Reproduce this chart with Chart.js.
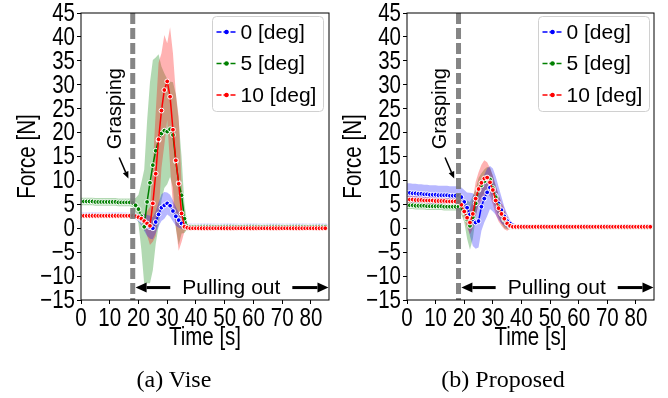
<!DOCTYPE html>
<html>
<head>
<meta charset="utf-8">
<script src="https://cdn.jsdelivr.net/npm/chart.js@4.4.1/dist/chart.umd.min.js"></script>
<style>
  html, body { margin: 0; padding: 0; background: #fff; }
  #wrap { position: relative; width: 668px; height: 398px; overflow: hidden; }
  canvas { position: absolute; top: 0; }
  .cap {
    position: absolute; top: 365px; width: 200px; text-align: center;
    font-family: "Liberation Serif", "Times New Roman", serif; font-size: 24px; line-height: 28px;
  }
</style>
</head>
<body>
<div id="wrap">
  <canvas id="vise" width="334" height="398" style="left:0;width:334px;height:398px"></canvas>
  <canvas id="prop" width="334" height="398" style="left:334px;width:334px;height:398px"></canvas>
  <div class="cap" style="left:74px">(a) Vise</div>
  <div class="cap" style="left:403px">(b) Proposed</div>
</div>
<script>
// Sample times [s], one reading per second.
const TIME = [
  0, 1, 2, 3, 4, 5, 6, 7, 8, 9,
  10, 11, 12, 13, 14, 15, 16, 17, 18, 19,
  20, 21, 22, 23, 24, 25, 26, 27, 28, 29,
  30, 31, 32, 33, 34, 35, 36, 37, 38, 39,
  40, 41, 42, 43, 44, 45, 46, 47, 48, 49,
  50, 51, 52, 53, 54, 55, 56, 57, 58, 59,
  60, 61, 62, 63, 64, 65, 66, 67, 68, 69,
  70, 71, 72, 73, 74, 75, 76, 77, 78, 79,
  80, 81, 82, 83, 84, 85,
];

// (a) Vise: mean force [N] and its standard deviation, per angle.
const VISE_DEG0 = [
  2.8, 2.8, 2.8, 2.8, 2.8, 2.8, 2.8, 2.8, 2.8, 2.8,
  2.8, 2.8, 2.8, 2.8, 2.8, 2.8, 2.8, 2.7, 2.7, 2.5,
  2.2, 1.8, 1.2, 0.6, 0.2, 0.0, 1.3, 2.9, 4.3, 4.8,
  5.2, 4.7, 3.6, 2.5, 1.7, 1.0, 0.6, 0.5, 0.5, 0.5,
  0.5, 0.5, 0.5, 0.5, 0.5, 0.5, 0.5, 0.5, 0.5, 0.5,
  0.5, 0.5, 0.5, 0.5, 0.5, 0.5, 0.5, 0.5, 0.5, 0.5,
  0.5, 0.5, 0.5, 0.5, 0.5, 0.5, 0.5, 0.5, 0.5, 0.5,
  0.5, 0.5, 0.5, 0.5, 0.5, 0.5, 0.5, 0.5, 0.5, 0.5,
  0.5, 0.5, 0.5, 0.5, 0.5, 0.5,
];
const VISE_DEG0_SD = [
  0.5, 0.5, 0.5, 0.5, 0.5, 0.5, 0.5, 0.5, 0.5, 0.5,
  0.5, 0.5, 0.5, 0.5, 0.5, 0.5, 0.5, 0.5, 0.5, 0.6,
  0.8, 1.2, 1.8, 2.2, 2.4, 2.3, 2.3, 2.5, 2.8, 2.8,
  2.3, 2.3, 2.2, 2.0, 1.6, 1.1, 0.5, 0.2, 0.2, 0.2,
  0.2, 0.2, 0.2, 0.2, 0.2, 0.2, 0.2, 0.2, 0.2, 0.2,
  0.2, 0.2, 0.2, 0.2, 0.2, 0.2, 0.2, 0.2, 0.2, 0.2,
  0.2, 0.2, 0.2, 0.2, 0.2, 0.2, 0.2, 0.2, 0.2, 0.2,
  0.2, 0.2, 0.2, 0.2, 0.2, 0.2, 0.2, 0.2, 0.2, 0.2,
  0.2, 0.2, 0.2, 0.2, 0.2, 0.2,
];
const VISE_DEG5 = [
  5.6, 5.6, 5.6, 5.6, 5.6, 5.5, 5.5, 5.5, 5.5, 5.5,
  5.5, 5.5, 5.5, 5.4, 5.4, 5.4, 5.4, 5.4, 5.3, 4.8,
  4.0, 2.5, 0.3, 5.5, 9.5, 13.2, 16.2, 18.4, 19.8, 20.4,
  20.2, 20.7, 19.5, 14.0, 9.5, 6.9, 2.0, 0.4, 0.3, 0.3,
  0.3, 0.3, 0.3, 0.3, 0.3, 0.3, 0.3, 0.3, 0.3, 0.3,
  0.3, 0.3, 0.3, 0.3, 0.3, 0.3, 0.3, 0.3, 0.3, 0.3,
  0.3, 0.3, 0.3, 0.3, 0.3, 0.3, 0.3, 0.3, 0.3, 0.3,
  0.3, 0.3, 0.3, 0.3, 0.3, 0.3, 0.3, 0.3, 0.3, 0.3,
  0.3, 0.3, 0.3, 0.3, 0.3, 0.3,
];
const VISE_DEG5_SD = [
  0.8, 0.8, 0.8, 0.8, 0.8, 0.8, 0.8, 0.8, 0.8, 0.8,
  0.8, 0.8, 0.8, 0.8, 0.8, 0.8, 0.8, 0.8, 0.9, 1.5,
  3.0, 7.0, 12.0, 17.0, 21.0, 22.0, 19.5, 18.0, 14.0, 12.0,
  11.0, 10.0, 11.0, 14.0, 13.0, 8.0, 3.0, 0.6, 0.3, 0.3,
  0.3, 0.3, 0.3, 0.3, 0.3, 0.3, 0.3, 0.3, 0.3, 0.3,
  0.3, 0.3, 0.3, 0.3, 0.3, 0.3, 0.3, 0.3, 0.3, 0.3,
  0.3, 0.3, 0.3, 0.3, 0.3, 0.3, 0.3, 0.3, 0.3, 0.3,
  0.3, 0.3, 0.3, 0.3, 0.3, 0.3, 0.3, 0.3, 0.3, 0.3,
  0.3, 0.3, 0.3, 0.3, 0.3, 0.3,
];
const VISE_DEG10 = [
  2.6, 2.6, 2.6, 2.6, 2.6, 2.6, 2.6, 2.6, 2.6, 2.6,
  2.6, 2.6, 2.6, 2.6, 2.6, 2.6, 2.6, 2.6, 2.6, 2.5,
  2.3, 2.0, 1.5, 1.0, 0.5, 5.2, 11.4, 18.6, 24.6, 28.9,
  30.7, 27.5, 20.6, 14.2, 9.3, 3.1, 0.3, 0.1, 0.0, 0.0,
  0.0, 0.0, 0.0, 0.0, 0.0, 0.0, 0.0, 0.0, 0.0, 0.0,
  0.0, 0.0, 0.0, 0.0, 0.0, 0.0, 0.0, 0.0, 0.0, 0.0,
  0.0, 0.0, 0.0, 0.0, 0.0, 0.0, 0.0, 0.0, 0.0, 0.0,
  0.0, 0.0, 0.0, 0.0, 0.0, 0.0, 0.0, 0.0, 0.0, 0.0,
  0.0, 0.0, 0.0, 0.0, 0.0, 0.0,
];
const VISE_DEG10_SD = [
  0.3, 0.3, 0.3, 0.3, 0.3, 0.3, 0.3, 0.3, 0.3, 0.3,
  0.3, 0.3, 0.3, 0.3, 0.3, 0.3, 0.3, 0.3, 0.3, 0.3,
  0.5, 0.8, 1.5, 2.5, 4.0, 8.0, 13.0, 16.0, 12.0, 11.5,
  8.0, 14.5, 16.0, 14.0, 14.0, 6.0, 1.0, 0.3, 0.2, 0.2,
  0.2, 0.2, 0.2, 0.2, 0.2, 0.2, 0.2, 0.2, 0.2, 0.2,
  0.2, 0.2, 0.2, 0.2, 0.2, 0.2, 0.2, 0.2, 0.2, 0.2,
  0.2, 0.2, 0.2, 0.2, 0.2, 0.2, 0.2, 0.2, 0.2, 0.2,
  0.2, 0.2, 0.2, 0.2, 0.2, 0.2, 0.2, 0.2, 0.2, 0.2,
  0.2, 0.2, 0.2, 0.2, 0.2, 0.2,
];

// (b) Proposed
const PROP_DEG0 = [
  7.4, 7.4, 7.3, 7.3, 7.2, 7.2, 7.1, 7.1, 7.0, 7.0,
  7.0, 6.9, 6.9, 6.9, 6.9, 6.8, 6.8, 6.8, 6.8, 6.5,
  5.5, 4.3, 2.9, 1.8, 1.2, 1.5, 4.5, 6.2, 7.5, 8.5,
  8.0, 6.8, 5.2, 3.8, 2.5, 1.5, 1.0, 0.6, 0.4, 0.4,
  0.4, 0.4, 0.4, 0.4, 0.4, 0.4, 0.4, 0.4, 0.4, 0.4,
  0.4, 0.4, 0.4, 0.4, 0.4, 0.4, 0.4, 0.4, 0.4, 0.4,
  0.4, 0.4, 0.4, 0.4, 0.4, 0.4, 0.4, 0.4, 0.4, 0.4,
  0.4, 0.4, 0.4, 0.4, 0.4, 0.4, 0.4, 0.4, 0.4, 0.4,
  0.4, 0.4, 0.4, 0.4, 0.4, 0.4,
];
const PROP_DEG0_SD = [
  2.0, 2.0, 2.0, 2.0, 2.0, 2.0, 2.0, 2.0, 2.0, 2.0,
  2.0, 2.0, 2.0, 2.0, 2.0, 2.0, 2.0, 2.0, 2.0, 2.0,
  2.5, 3.2, 4.5, 5.5, 5.5, 5.5, 5.0, 5.0, 5.0, 4.5,
  4.5, 4.0, 3.5, 2.8, 2.0, 1.5, 0.7, 0.3, 0.2, 0.2,
  0.2, 0.2, 0.2, 0.2, 0.2, 0.2, 0.2, 0.2, 0.2, 0.2,
  0.2, 0.2, 0.2, 0.2, 0.2, 0.2, 0.2, 0.2, 0.2, 0.2,
  0.2, 0.2, 0.2, 0.2, 0.2, 0.2, 0.2, 0.2, 0.2, 0.2,
  0.2, 0.2, 0.2, 0.2, 0.2, 0.2, 0.2, 0.2, 0.2, 0.2,
  0.2, 0.2, 0.2, 0.2, 0.2, 0.2,
];
const PROP_DEG5 = [
  4.8, 4.8, 4.8, 4.7, 4.7, 4.7, 4.7, 4.6, 4.6, 4.6,
  4.6, 4.6, 4.6, 4.5, 4.5, 4.5, 4.5, 4.5, 4.5, 4.1,
  3.3, 1.8, 0.5, 2.3, 5.2, 8.0, 9.0, 9.8, 10.5, 10.2,
  8.4, 6.5, 4.6, 3.0, 1.8, 1.0, 0.4, 0.2, 0.2, 0.2,
  0.2, 0.2, 0.2, 0.2, 0.2, 0.2, 0.2, 0.2, 0.2, 0.2,
  0.2, 0.2, 0.2, 0.2, 0.2, 0.2, 0.2, 0.2, 0.2, 0.2,
  0.2, 0.2, 0.2, 0.2, 0.2, 0.2, 0.2, 0.2, 0.2, 0.2,
  0.2, 0.2, 0.2, 0.2, 0.2, 0.2, 0.2, 0.2, 0.2, 0.2,
  0.2, 0.2, 0.2, 0.2, 0.2, 0.2,
];
const PROP_DEG5_SD = [
  0.8, 0.8, 0.8, 0.8, 0.8, 0.8, 0.8, 0.8, 0.8, 0.8,
  0.8, 0.8, 0.8, 0.8, 0.8, 0.8, 0.8, 0.8, 0.8, 1.2,
  2.0, 4.0, 5.0, 4.5, 3.0, 2.5, 2.5, 2.5, 2.3, 2.5,
  2.5, 2.5, 2.3, 2.0, 1.8, 1.2, 0.6, 0.3, 0.2, 0.2,
  0.2, 0.2, 0.2, 0.2, 0.2, 0.2, 0.2, 0.2, 0.2, 0.2,
  0.2, 0.2, 0.2, 0.2, 0.2, 0.2, 0.2, 0.2, 0.2, 0.2,
  0.2, 0.2, 0.2, 0.2, 0.2, 0.2, 0.2, 0.2, 0.2, 0.2,
  0.2, 0.2, 0.2, 0.2, 0.2, 0.2, 0.2, 0.2, 0.2, 0.2,
  0.2, 0.2, 0.2, 0.2, 0.2, 0.2,
];
const PROP_DEG10 = [
  6.0, 6.0, 6.0, 5.9, 5.9, 5.9, 5.8, 5.8, 5.8, 5.8,
  5.7, 5.7, 5.7, 5.7, 5.6, 5.6, 5.6, 5.6, 5.5, 4.9,
  3.5, 2.2, 1.2, 3.0, 6.2, 8.2, 9.5, 10.4, 10.6, 9.6,
  8.0, 5.8, 4.2, 3.0, 2.0, 1.0, 0.5, 0.3, 0.3, 0.3,
  0.3, 0.3, 0.3, 0.3, 0.3, 0.3, 0.3, 0.3, 0.3, 0.3,
  0.3, 0.3, 0.3, 0.3, 0.3, 0.3, 0.3, 0.3, 0.3, 0.3,
  0.3, 0.3, 0.3, 0.3, 0.3, 0.3, 0.3, 0.3, 0.3, 0.3,
  0.3, 0.3, 0.3, 0.3, 0.3, 0.3, 0.3, 0.3, 0.3, 0.3,
  0.3, 0.3, 0.3, 0.3, 0.3, 0.3,
];
const PROP_DEG10_SD = [
  0.8, 0.8, 0.8, 0.8, 0.8, 0.8, 0.8, 0.8, 0.8, 0.8,
  0.8, 0.8, 0.8, 0.8, 0.8, 0.8, 0.8, 0.8, 0.8, 1.0,
  1.5, 2.0, 2.5, 3.0, 3.5, 3.5, 3.8, 3.8, 3.2, 3.0,
  3.0, 3.0, 2.8, 2.5, 2.2, 1.5, 0.6, 0.2, 0.1, 0.1,
  0.1, 0.1, 0.1, 0.1, 0.1, 0.1, 0.1, 0.1, 0.1, 0.1,
  0.1, 0.1, 0.1, 0.1, 0.1, 0.1, 0.1, 0.1, 0.1, 0.1,
  0.1, 0.1, 0.1, 0.1, 0.1, 0.1, 0.1, 0.1, 0.1, 0.1,
  0.1, 0.1, 0.1, 0.1, 0.1, 0.1, 0.1, 0.1, 0.1, 0.1,
  0.1, 0.1, 0.1, 0.1, 0.1, 0.1,
];

const SERIES_LABELS = ["0 [deg]", "5 [deg]", "10 [deg]"];
const COLORS = ["#0000ff", "#008000", "#ff0000"];
const BAND_COLORS = ["rgba(0,0,255,0.28)", "rgba(0,128,0,0.3)", "rgba(255,0,0,0.3)"];
const X_MIN = 0, X_MAX = 86.3, X_STEP = 10;
const Y_MIN = -15, Y_MAX = 45, Y_STEP = 5;
const GRASP_TIME = 18; // dashed marker
const X_LABEL = "Time [s]";
const Y_LABEL = "Force [N]";
const GRASP_TEXT = "Grasping";
const PULL_TEXT = "Pulling out";

const FONT = '"Liberation Sans", Arial, sans-serif';
const NARROW = 0.82; // axis text in the reference is a narrow face; squeeze Liberation Sans
Chart.defaults.font.family = FONT;
Chart.defaults.color = "#000";

function points(values) {
  return TIME.map((t, i) => ({ x: t, y: values[i] }));
}

// Band (mean ± sd) fills first, then the marker lines on top.
// Lower `order` is drawn later, i.e. on top.
function buildDatasets(means, sds) {
  const bandOrder = [8, 10, 9]; // green under red under blue
  const lineOrder = [3, 2, 1]; // red line on top
  const ds = [];
  means.forEach((m, k) => {
    ds.push({
      data: points(m.map((v, i) => v + sds[k][i])),
      fill: "+1", backgroundColor: BAND_COLORS[k],
      borderWidth: 0, borderColor: "transparent", pointRadius: 0, order: bandOrder[k],
    });
    ds.push({
      data: points(m.map((v, i) => v - sds[k][i])),
      fill: false, borderWidth: 0, borderColor: "transparent", pointRadius: 0, order: bandOrder[k],
    });
  });
  means.forEach((m, k) => {
    ds.push({
      data: points(m), fill: false, borderColor: COLORS[k], borderWidth: 1.5,
      pointRadius: 2.4, pointBorderWidth: 1, pointBorderColor: "#fff",
      pointBackgroundColor: COLORS[k], order: lineOrder[k],
    });
  });
  return ds;
}

function drawArrow(ctx, x1, y1, x2, y2, headLen, headW) {
  const a = Math.atan2(y2 - y1, x2 - x1);
  const bx = x2 - headLen * Math.cos(a), by = y2 - headLen * Math.sin(a);
  ctx.beginPath(); ctx.moveTo(x1, y1); ctx.lineTo(bx, by); ctx.stroke();
  const sx = (headW / 2) * Math.sin(a), sy = (headW / 2) * Math.cos(a);
  ctx.beginPath();
  ctx.moveTo(x2, y2); ctx.lineTo(bx + sx, by - sy); ctx.lineTo(bx - sx, by + sy);
  ctx.closePath(); ctx.fill();
}

// squeezed text along its own direction (rot in radians)
function narrowText(ctx, text, x, y, align, baseline, rot) {
  ctx.save();
  ctx.translate(x, y);
  if (rot) ctx.rotate(rot);
  ctx.scale(NARROW, 1);
  ctx.textAlign = align;
  ctx.textBaseline = baseline;
  ctx.fillText(text, 0, 0);
  ctx.restore();
}

const minusFmt = (v) => (v < 0 ? "\u2212" + Math.abs(v) : String(v));

// Frame, grasp marker, annotations, tick labels, axis titles and legend.
const decorPlugin = {
  id: "decor",
  afterDatasetsDraw(chart) {
    const { ctx, chartArea: a, scales: { x, y } } = chart;
    ctx.save();

    // dashed grasp line
    const gx = x.getPixelForValue(GRASP_TIME);
    ctx.strokeStyle = "rgba(120,120,120,0.9)";
    ctx.lineWidth = 5;
    ctx.setLineDash([11, 4]);
    ctx.beginPath(); ctx.moveTo(gx, a.top); ctx.lineTo(gx, a.bottom); ctx.stroke();
    ctx.setLineDash([]);

    // frame
    ctx.strokeStyle = "#000";
    ctx.lineWidth = 1;
    ctx.strokeRect(a.left, a.top, a.right - a.left, a.bottom - a.top);

    ctx.fillStyle = "#000";
    ctx.strokeStyle = "#000";

    // tick labels from the scales' own ticks
    ctx.font = "25px " + FONT;
    x.ticks.forEach((t) => {
      narrowText(ctx, minusFmt(t.value), x.getPixelForValue(t.value), a.bottom + 7, "center", "top");
    });
    y.ticks.forEach((t) => {
      narrowText(ctx, minusFmt(t.value), a.left - 6, y.getPixelForValue(t.value) + 1, "right", "middle");
    });

    // axis titles
    narrowText(ctx, X_LABEL, (a.left + a.right) / 2, 345, "center", "alphabetic");
    narrowText(ctx, Y_LABEL, a.left - 46, (a.top + a.bottom) / 2, "center", "alphabetic", -Math.PI / 2);

    // "Grasping" (rotated) with arrow to the grasp line
    ctx.save();
    ctx.translate(x.getPixelForValue(13.8), y.getPixelForValue(25));
    ctx.rotate(-Math.PI / 2);
    ctx.font = "20px " + FONT;
    ctx.textAlign = "center";
    ctx.textBaseline = "alphabetic";
    ctx.fillText(GRASP_TEXT, 0, 0);
    ctx.restore();
    ctx.lineWidth = 1.5;
    drawArrow(ctx, x.getPixelForValue(13.3), y.getPixelForValue(14.8),
      x.getPixelForValue(16.5), y.getPixelForValue(10.4), 7, 6);

    // "Pulling out" with double arrow
    ctx.font = "21px " + FONT;
    ctx.textAlign = "center";
    ctx.textBaseline = "middle";
    const py = y.getPixelForValue(-12.4);
    const pcx = x.getPixelForValue(52.3);
    const tw = ctx.measureText(PULL_TEXT).width;
    ctx.fillText(PULL_TEXT, pcx, py + 1);
    ctx.lineWidth = 3;
    drawArrow(ctx, pcx - tw / 2 - 12, py, x.getPixelForValue(19.0), py, 11, 10);
    drawArrow(ctx, pcx + tw / 2 + 12, py, x.getPixelForValue(X_MAX) - 0.5, py, 11, 10);

    // legend
    const bx = a.left + 131.5, by = a.top + 3.5, bw = 111, bh = 95;
    ctx.beginPath();
    ctx.roundRect(bx, by, bw, bh, 4);
    ctx.fillStyle = "rgba(255,255,255,0.8)";
    ctx.fill();
    ctx.strokeStyle = "#d0d0d0";
    ctx.lineWidth = 1;
    ctx.stroke();
    ctx.font = "21px " + FONT;
    ctx.textAlign = "left";
    ctx.textBaseline = "middle";
    SERIES_LABELS.forEach((label, k) => {
      const ry = by + 15.5 + k * 31.5;
      ctx.strokeStyle = COLORS[k];
      ctx.lineWidth = 1.5;
      ctx.setLineDash([5, 2]);
      ctx.beginPath(); ctx.moveTo(bx + 4, ry); ctx.lineTo(bx + 24, ry); ctx.stroke();
      ctx.setLineDash([]);
      ctx.beginPath(); ctx.arc(bx + 14, ry, 2.2, 0, Math.PI * 2);
      ctx.fillStyle = COLORS[k]; ctx.fill();
      ctx.fillStyle = "#000";
      ctx.fillText(label, bx + 28, ry + 1);
    });
    ctx.restore();
  },
};

function makeChart(canvasId, means, sds, yWidth, padRight) {
  return new Chart(document.getElementById(canvasId), {
    type: "line",
    data: { datasets: buildDatasets(means, sds) },
    plugins: [decorPlugin],
    options: {
      responsive: false,
      animation: false,
      events: [],
      layout: { padding: { top: 13, right: padRight, left: 0, bottom: 0 } },
      plugins: { legend: { display: false }, tooltip: { enabled: false } },
      scales: {
        x: {
          type: "linear", min: X_MIN, max: X_MAX,
          afterFit: (s) => { s.height = 98; },
          ticks: { stepSize: X_STEP, includeBounds: false, autoSkip: false, display: false },
          grid: { drawOnChartArea: false, color: "#000", tickLength: 4 },
          border: { display: false },
        },
        y: {
          type: "linear", min: Y_MIN, max: Y_MAX,
          afterFit: (s) => { s.width = yWidth; },
          ticks: { stepSize: Y_STEP, autoSkip: false, display: false },
          grid: { drawOnChartArea: false, color: "#000", tickLength: 4 },
          border: { display: false },
        },
      },
    },
  });
}

makeChart("vise", [VISE_DEG0, VISE_DEG5, VISE_DEG10],
  [VISE_DEG0_SD, VISE_DEG5_SD, VISE_DEG10_SD], 81, 5);
makeChart("prop", [PROP_DEG0, PROP_DEG5, PROP_DEG10],
  [PROP_DEG0_SD, PROP_DEG5_SD, PROP_DEG10_SD], 73, 14);
</script>
</body>
</html>
